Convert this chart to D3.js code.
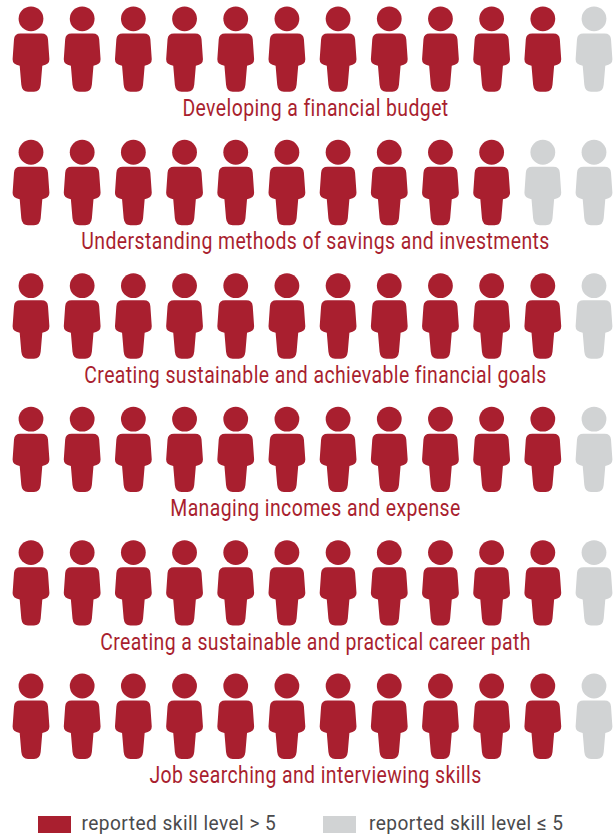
<!DOCTYPE html>
<html>
<head>
<meta charset="utf-8">
<script src="https://cdn.jsdelivr.net/npm/d3@7/dist/d3.min.js"></script>
<style>
  html, body { margin: 0; padding: 0; background: #fff; }
  svg { display: block; }
  text { font-family: "Roboto", "Liberation Sans", sans-serif; }
</style>
</head>
<body>
<div id="chart"></div>
<script>
// Skills surveyed, and how many of every twelve respondents rated themselves above 5
const skills = [
  "Developing a financial budget",
  "Understanding methods of savings and investments",
  "Creating sustainable and achievable financial goals",
  "Managing incomes and expense",
  "Creating a sustainable and practical career path",
  "Job searching and interviewing skills"
];
const aboveFive = [11, 10, 11, 11, 11, 11];
const peoplePerRow = 12;
const legendLabels = ["reported skill level > 5", "reported skill level \u2264 5"];

const RED = "#a91f2f", GREY = "#d1d3d4";
const width = 616, height = 836;

const svg = d3.select("#chart").append("svg")
  .attr("width", width).attr("height", height);

// Horizontal and vertical placement of each person icon (centre of the head)
const x = d3.scalePoint().domain(d3.range(peoplePerRow)).range([31, 594]);
const y = d3.scalePoint().domain(skills).range([18.8, 686]);

// Person figure drawn around the head centre
const headR = 12.4;
const bodyPath = d3.path();
bodyPath.moveTo(-10.5, 14.6);
bodyPath.lineTo(10.5, 14.6);
bodyPath.quadraticCurveTo(16.6, 14.6, 17, 20.5);
bodyPath.lineTo(18.4, 40.5);
bodyPath.quadraticCurveTo(18.6, 45.6, 11.3, 47);
bodyPath.lineTo(9.7, 66);
bodyPath.quadraticCurveTo(9, 73, 3, 73);
bodyPath.lineTo(-3, 73);
bodyPath.quadraticCurveTo(-9, 73, -9.7, 66);
bodyPath.lineTo(-11.3, 47);
bodyPath.quadraticCurveTo(-18.6, 45.6, -18.4, 40.5);
bodyPath.lineTo(-17, 20.5);
bodyPath.quadraticCurveTo(-16.6, 14.6, -10.5, 14.6);
bodyPath.closePath();

const rows = svg.selectAll("g.row")
  .data(skills.map((name, i) => ({ name, count: aboveFive[i] })))
  .join("g")
  .attr("class", "row")
  .attr("transform", d => `translate(0,${y(d.name)})`);

const people = rows.selectAll("g.person")
  .data(d => d3.range(peoplePerRow).map(i => ({ i, on: i < d.count })))
  .join("g")
  .attr("class", "person")
  .attr("transform", d => `translate(${x(d.i)},0)`)
  .attr("fill", d => d.on ? RED : GREY);

people.append("circle").attr("r", headR);
people.append("path").attr("d", bodyPath.toString());

// Skill caption under each row, set in a condensed width
rows.append("text")
  .attr("transform", "translate(315.5,97) scale(0.81,1)")
  .attr("text-anchor", "middle")
  .attr("font-size", 24)
  .attr("letter-spacing", 0.5)
  .attr("fill", RED)
  .text(d => d.name);

// Legend along the bottom edge
const legend = svg.selectAll("g.key")
  .data(legendLabels)
  .join("g")
  .attr("class", "key")
  .attr("transform", (d, i) => `translate(${i ? 323 : 38},816)`);

legend.append("rect")
  .attr("width", 33).attr("height", 17)
  .attr("fill", (d, i) => i ? GREY : RED);

legend.append("text")
  .attr("transform", (d, i) => `translate(${i ? 46 : 43.5},14) scale(0.91,1)`)
  .attr("font-size", 21)
  .attr("letter-spacing", 0.5)
  .attr("fill", "#4a4a4c")
  .text(d => d);
</script>
</body>
</html>
